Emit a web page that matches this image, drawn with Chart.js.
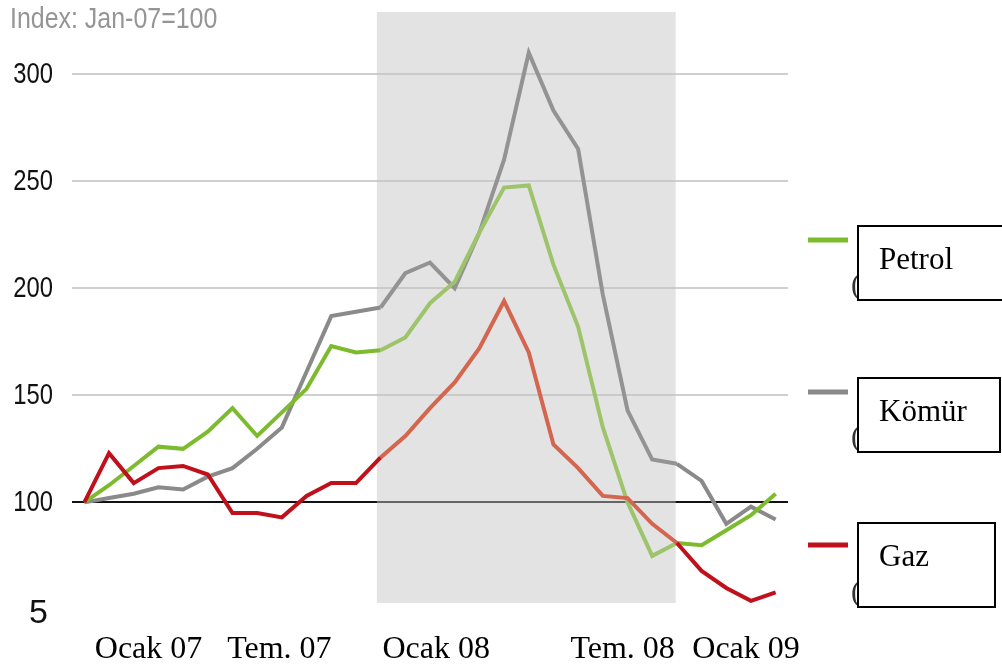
<!DOCTYPE html>
<html>
<head>
<meta charset="utf-8">
<script src="https://cdn.jsdelivr.net/npm/chart.js@4"></script>
<style>
body{margin:0;background:#fff}
#wrap{width:1002px;height:669px}
</style>
</head>
<body>
<div id="wrap"><canvas id="c" width="1002" height="669"></canvas></div>
<script>
// monthly index, Jan 07 .. May 09 (Jan-07 = 100)
var petrol = [100,108,117,126,125,133,144,131,142,153,173,170,171,177,193,203,226,247,248,211,182,135,100,75,81,80,87,94,104]
var komur  = [100,102,104,107,106,112,116,125,135,161,187,189,191,207,212,200,226,260,310,283,265,197,143,120,118,110,90,98,92]
var gaz    = [100,123,109,116,117,113,95,95,93,103,109,109,121,131,144,156,172,194,170,127,116,103,102,90,81,68,60,54,58]

var seriesNames  = ['Petrol','Kömür','Gaz']
var seriesColors = ['#7dbb2e','#8a8a8a','#c0101c']
var shadedColors = ['#9dc46b','#939393','#d4654f']   // same series inside the grey band
var yTicks = [100,150,200,250,300]
var xTickLabels = ['Ocak 07','Tem. 07','Ocak 08','Tem. 08','Ocak 09']
var xTickAt = [2.6,7.9,14.25,21.8,26.8]   // in months from Jan 07
var shadeFrom = 11.85, shadeTo = 23.95      // shaded period, months from Jan 07

function toPoints(arr){
    return arr.map(function(v,i){ return {x:i, y:v} })
}

// text squeezed sideways, the source uses a narrow sans
function narrowText(ctx, txt, x, y, sx){
    ctx.save()
    ctx.translate(x, y)
    ctx.scale(sx, 1)
    ctx.fillText(txt, 0, 0)
    ctx.restore()
}

var extras = {
    id: 'extras',
    beforeDatasetsDraw: function(chart){
        var ctx = chart.ctx, a = chart.chartArea, xs = chart.scales.x
        var x0 = xs.getPixelForValue(shadeFrom), x1 = xs.getPixelForValue(shadeTo)
        ctx.save()
        ctx.fillStyle = 'rgba(196,196,196,0.47)'
        ctx.fillRect(x0, a.top, x1-x0, a.bottom-a.top)
        ctx.restore()
    },
    afterDraw: function(chart){
        var ctx = chart.ctx, ys = chart.scales.y
        ctx.save()
        // header
        ctx.fillStyle = '#959595'
        ctx.font = "29px 'Liberation Sans',Arial,sans-serif"
        ctx.textBaseline = 'alphabetic'
        ctx.textAlign = 'left'
        narrowText(ctx, 'Index: Jan-07=100', 10, 28, 0.86)

        // y tick labels
        ctx.fillStyle = '#111'
        ctx.textAlign = 'right'
        ctx.textBaseline = 'middle'
        ys.ticks.forEach(function(t){
            narrowText(ctx, String(t.value), ys.right - 19, ys.getPixelForValue(t.value) + 1, 0.82)
        })

        // leftover tick digit
        ctx.textAlign = 'left'
        ctx.textBaseline = 'alphabetic'
        ctx.font = "34px 'Liberation Sans',Arial,sans-serif"
        ctx.fillText('5', 29, 623)

        // legend
        var boxes = [{y:226,h:74,w:146},{y:378,h:74,w:142},{y:523,h:84,w:137}]
        var swatchY = [240,392,545]
        var ds = chart.data.datasets
        for (var i = 0; i < ds.length; i++){
            var b = boxes[i]
            ctx.strokeStyle = ds[i].borderColor
            ctx.lineWidth = 5
            ctx.beginPath()
            ctx.moveTo(808, swatchY[i]); ctx.lineTo(848, swatchY[i])
            ctx.stroke()

            ctx.fillStyle = '#333'
            ctx.font = "30px 'Liberation Serif',serif"
            ctx.fillText('(', 851, b.y + b.h - 6)

            ctx.fillStyle = '#fff'
            ctx.fillRect(858, b.y, b.w, b.h)
            ctx.strokeStyle = '#000'
            ctx.lineWidth = 2
            ctx.strokeRect(858, b.y, b.w, b.h)

            ctx.fillStyle = '#000'
            ctx.font = "31px 'Liberation Serif',serif"
            ctx.fillText(ds[i].label, 879, b.y + 43)
        }
        ctx.restore()
    }
}

var data = [petrol, komur, gaz]
var datasets = []
for (var i = 0; i < data.length; i++){
    (function(i){
        datasets.push({
            label: seriesNames[i],
            data: toPoints(data[i]),
            borderColor: seriesColors[i],
            backgroundColor: seriesColors[i],
            borderWidth: 4,
            pointRadius: 0,
            tension: 0,
            order: [2,3,1][i],
            segment: {
                borderColor: function(s){
                    var inside = s.p0.parsed.x >= shadeFrom && s.p1.parsed.x <= shadeTo + 0.1
                    return inside ? shadedColors[i] : seriesColors[i]
                }
            }
        })
    })(i)
}

new Chart(document.getElementById('c').getContext('2d'), {
    type: 'line',
    data: {datasets: datasets},
    plugins: [extras],
    options: {
        responsive: false,
        animation: false,
        layout: {padding: {left:13, top:12, right:214, bottom:0}},
        plugins: {legend: {display:false}, tooltip: {enabled:false}},
        scales: {
            x: {
                type: 'linear',
                min: -0.5, max: 28.5,
                grid: {display:false, drawTicks:false},
                border: {display:false},
                afterBuildTicks: function(s){ s.ticks = xTickAt.map(function(v){ return {value:v} }) },
                afterFit: function(s){ s.height = 66 },
                ticks: {
                    autoSkip: false, maxRotation: 0, padding: 27,
                    color: '#000',
                    font: {family: "'Liberation Serif',serif", size: 32},
                    callback: function(v, i){ return xTickLabels[i] }
                }
            },
            y: {
                min: 53, max: 329,
                afterBuildTicks: function(s){ s.ticks = yTicks.map(function(v){ return {value:v} }) },
                afterFit: function(s){ s.width = 59 },
                border: {display:false},
                grid: {
                    drawTicks: false,
                    lineWidth: 2,
                    color: function(c){ return c.tick && c.tick.value === 100 ? '#111' : '#d0d0d0' }
                },
                ticks: {display: false}
            }
        }
    }
});
</script>
</body>
</html>
